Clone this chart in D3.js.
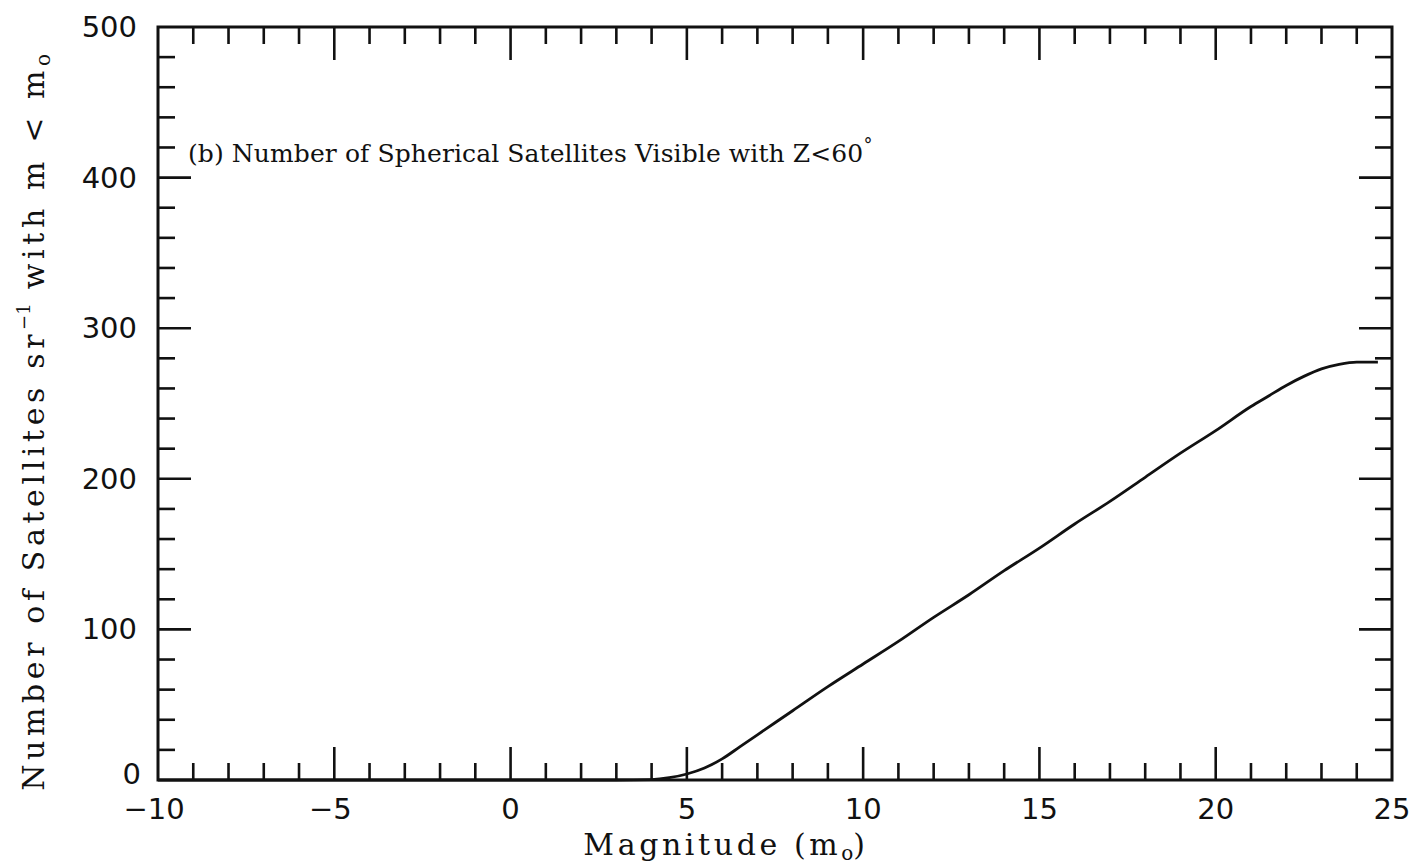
<!DOCTYPE html>
<html>
<head>
<meta charset="utf-8">
<script src="https://cdn.jsdelivr.net/npm/d3@7"></script>
<style>
  html, body { margin: 0; padding: 0; background: #fff; }
  svg { display: block; }
  text { font-family: "DejaVu Serif", "Liberation Serif", serif; fill: #111; }
  .num { font-family: "DejaVu Sans", "Liberation Sans", sans-serif; }
</style>
</head>
<body>
<svg id="chart" width="1414" height="864"></svg>
<script>
// Cumulative count of spherical satellites brighter than magnitude m (per steradian, Z < 60°)
const magnitude = [-10, 0, 3, 4, 4.5, 5, 5.5, 6, 6.5, 7, 7.5, 8, 9, 10, 11, 12, 13, 14, 15, 16, 17, 18, 19, 20, 21, 21.5, 22, 22.5, 23, 23.5, 24, 24.6];
const count     = [0, 0, 0, 0.3, 1.5, 4, 8, 14, 22, 30, 38, 46, 62, 77, 92, 108, 123, 139, 154, 170, 185, 201, 217, 232, 248, 255, 262, 268, 273, 276, 277.5, 277.5];

const xMajorTicks = [-10, -5, 0, 5, 10, 15, 20, 25];
const xTickLabels = ["\u221210", "\u22125", "0", "5", "10", "15", "20", "25"];
const yMajorTicks = [0, 100, 200, 300, 400, 500];
const yTickLabels = ["0", "100", "200", "300", "400", "500"];

const svg = d3.select("#chart");
const plotLeft = 158, plotRight = 1392, plotTop = 27, plotBottom = 780;

const x = d3.scaleLinear().domain([-10, 25]).range([plotLeft, plotRight]);
const y = d3.scaleLinear().domain([0, 500]).range([plotBottom, plotTop]);

const ink = "#111";
const majorLen = 33, minorLen = 17;

// Inward ticks on all four sides of the frame
const g = svg.append("g").attr("stroke", ink).attr("stroke-width", 2.6);
const xMinor = d3.range(-10, 25.001, 1);
const yMinor = d3.range(0, 500.001, 20);

xMinor.forEach(v => {
  if (v === -10 || v === 25) return;
  const len = (v % 5 === 0) ? majorLen : minorLen;
  g.append("line").attr("x1", x(v)).attr("x2", x(v)).attr("y1", plotBottom).attr("y2", plotBottom - len);
  g.append("line").attr("x1", x(v)).attr("x2", x(v)).attr("y1", plotTop).attr("y2", plotTop + len);
});
yMinor.forEach(v => {
  if (v === 0 || v === 500) return;
  const len = (v % 100 === 0) ? majorLen : minorLen;
  g.append("line").attr("y1", y(v)).attr("y2", y(v)).attr("x1", plotLeft).attr("x2", plotLeft + len);
  g.append("line").attr("y1", y(v)).attr("y2", y(v)).attr("x1", plotRight).attr("x2", plotRight - len);
});

// Frame
svg.append("rect")
  .attr("x", plotLeft).attr("y", plotTop)
  .attr("width", plotRight - plotLeft).attr("height", plotBottom - plotTop)
  .attr("fill", "none").attr("stroke", ink).attr("stroke-width", 3);

// Tick labels
svg.append("g").selectAll("text").data(xMajorTicks).join("text")
  .attr("class", "num")
  .attr("x", d => x(d) - (d < 0 ? 4 : 0)).attr("y", 819)
  .attr("text-anchor", "middle")
  .attr("font-size", 29)
  .text((d, i) => xTickLabels[i]);

svg.append("g").selectAll("text").data(yMajorTicks).join("text")
  .attr("class", "num")
  .attr("x", d => d === 0 ? 141 : 137).attr("y", d => y(d) + 10 + (d === 0 ? -6 : 0))
  .attr("text-anchor", "end")
  .attr("font-size", 29)
  .text((d, i) => yTickLabels[i]);

// Axis titles
const xt = svg.append("text")
  .attr("x", 726).attr("y", 855)
  .attr("text-anchor", "middle")
  .attr("font-size", 30)
  .attr("letter-spacing", 3.6);
xt.append("tspan").text("Magnitude (m");
xt.append("tspan").attr("font-size", 20).attr("dy", 5).attr("letter-spacing", 0).text("o");
xt.append("tspan").attr("dy", -5).text(")");

const yt = svg.append("text")
  .attr("transform", `translate(44, 420) rotate(-90)`)
  .attr("text-anchor", "middle")
  .attr("font-size", 30)
  .attr("letter-spacing", 4.6);
yt.append("tspan").text("Number of Satellites sr");
yt.append("tspan").attr("font-size", 18).attr("dy", -14).attr("letter-spacing", 0).text("\u22121");
yt.append("tspan").attr("dy", 14).text(" with m < m");
yt.append("tspan").attr("font-size", 20).attr("dy", 6).text("o");

// Panel annotation
const ann = svg.append("text")
  .attr("x", 188).attr("y", 162)
  .attr("font-size", 25)
  .attr("letter-spacing", 0.1);
ann.append("tspan").text("(b) Number of Spherical Satellites Visible with Z<60");
ann.append("tspan").attr("font-size", 18).attr("dy", -11).text("\u00b0");

// Cumulative count curve
const line = d3.line()
  .x((d, i) => x(magnitude[i]))
  .y((d, i) => y(count[i]))
  .curve(d3.curveMonotoneX);

svg.append("path")
  .datum(count)
  .attr("d", line)
  .attr("fill", "none")
  .attr("stroke", ink)
  .attr("stroke-width", 2.8);
</script>
</body>
</html>
